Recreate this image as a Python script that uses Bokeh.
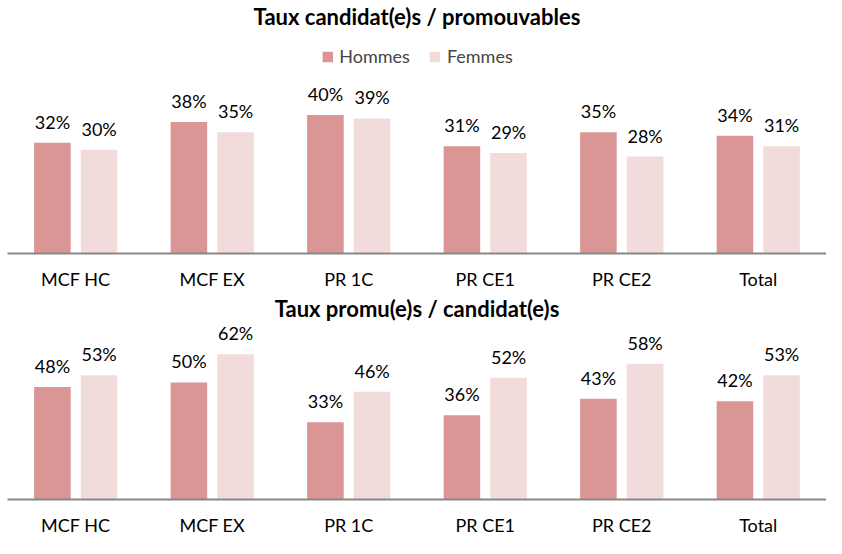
from bokeh.plotting import figure
from bokeh.models import ColumnDataSource, LabelSet, Legend, LegendItem, Range1d
from bokeh.core.properties import value
from bokeh.transform import dodge
from bokeh.layouts import column
from bokeh.embed import file_html
from bokeh.resources import INLINE

categories = ["MCF HC", "MCF EX", "PR 1C", "PR CE1", "PR CE2", "Total"]
cand_hommes = [32, 38, 40, 31, 35, 34]
cand_femmes = [30, 35, 39, 29, 28, 31]
promu_hommes = [48, 50, 33, 36, 43, 42]
promu_femmes = [53, 62, 46, 52, 58, 53]
series_names = ["Hommes", "Femmes"]
title_top = "Taux candidat(e)s / promouvables"
title_bottom = "Taux promu(e)s / candidat(e)s"

C_H = "#D99694"
C_F = "#F2DCDB"
FONT = "Lato"
W = 826


def make_chart(title, hommes, femmes, height, y_end, frame_top, with_legend):
    src = ColumnDataSource(dict(
        cat=categories,
        h=[v / 100 for v in hommes],
        f=[v / 100 for v in femmes],
        hl=[f"{v}%" for v in hommes],
        fl=[f"{v}%" for v in femmes],
    ))
    p = figure(x_range=categories, width=W, height=height, output_backend="svg",
               toolbar_location=None, min_border_left=7, min_border_right=0,
               min_border_top=frame_top, min_border_bottom=0,
               outline_line_color=None, background_fill_color="white")
    p.y_range = Range1d(0, y_end)
    p.title.text = title
    p.title.align = "center"
    p.title.text_font = FONT
    p.title.text_font_style = "bold"
    p.title.text_font_size = "22px"
    p.title.text_color = "#000000"
    p.title.standoff = 0

    xh = dodge("cat", -0.171, range=p.x_range)
    xf = dodge("cat", 0.171, range=p.x_range)
    rh = p.vbar(x=xh, top="h", width=0.268, source=src, fill_color=C_H, line_color=None)
    rf = p.vbar(x=xf, top="f", width=0.268, source=src, fill_color=C_F, line_color=None)
    for x, y, t in ((xh, "h", "hl"), (xf, "f", "fl")):
        p.add_layout(LabelSet(x=x, y=y, text=t, source=src, text_align="center",
                              text_baseline="alphabetic", y_offset=14,
                              text_font=value(FONT), text_font_size=value("18px"),
                              text_color="#000000"))

    p.yaxis.visible = False
    p.xgrid.visible = False
    p.ygrid.visible = False
    ax = p.xaxis[0]
    ax.axis_line_color = "#878787"
    ax.axis_line_width = 2
    ax.major_tick_line_color = None
    ax.minor_tick_line_color = None
    ax.major_tick_out = 0
    ax.major_tick_in = 0
    ax.major_label_text_font = FONT
    ax.major_label_text_font_size = "18px"
    ax.major_label_text_color = "#000000"
    ax.major_label_standoff = 14

    if with_legend:
        leg = Legend(items=[LegendItem(label=series_names[0], renderers=[rh]),
                            LegendItem(label=series_names[1], renderers=[rf])],
                     location="top_center", orientation="horizontal",
                     border_line_color=None, background_fill_alpha=0,
                     glyph_width=13, glyph_height=13, label_standoff=6, spacing=18,
                     label_text_font=FONT, label_text_font_size="18px",
                     padding=0, margin=16)
        p.add_layout(leg, "center")
    return p


top = make_chart(title_top, cand_hommes, cand_femmes, 292, 0.647, 26, True)
bottom = make_chart(title_bottom, promu_hommes, promu_femmes, 246, 0.76, 19, False)
page = column(top, bottom, spacing=0)

open("out.html", "w").write(file_html(page, INLINE))
